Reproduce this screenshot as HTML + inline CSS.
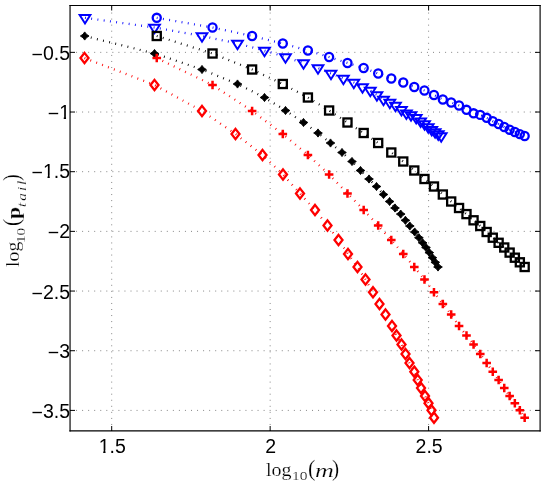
<!DOCTYPE html>
<html><head><meta charset="utf-8"><title>plot</title>
<style>
html,body{margin:0;padding:0;background:#fff;}
#c{will-change:transform;position:relative;width:546px;height:484px;overflow:hidden;background:#fff;font-family:"Liberation Sans",sans-serif;color:#000;}
.yt{position:absolute;right:476px;font-size:19.5px;line-height:20px;height:20px;white-space:nowrap;text-align:right;}
.xt{position:absolute;top:436px;font-size:19.5px;line-height:20px;width:60px;text-align:center;}
.o{display:inline-block;height:20px;line-height:20px;vertical-align:top;clip-path:polygon(0 0,100% 0,100% 14.3px,6.9px 14.3px,6.9px 20px,4.6px 20px,4.6px 14.3px,0 14.3px);}
.mn{position:relative;top:1px;}
.lb{position:absolute;width:0;height:0;transform-origin:0 0;}
.lb span{-webkit-text-stroke:0.22px #fff;position:absolute;white-space:nowrap;line-height:30px;transform-origin:0 0;}
</style></head><body><div id="c">
<svg width="546" height="484" viewBox="0 0 546 484" style="position:absolute;left:0;top:0">
<g stroke="#000" stroke-width="1" stroke-dasharray="1 5.05" fill="none" opacity="0.48"><path d="M111.7 431V5.5"/><path d="M270.15 431V5.5"/><path d="M428.6 431V5.5"/><path d="M70 52.35H540"/><path d="M70 112.03H540"/><path d="M70 171.7H540"/><path d="M70 231.37H540"/><path d="M70 291.05H540"/><path d="M70 350.73H540"/><path d="M70 410.4H540"/></g>
<polyline points="156.75,17.8 212.53,27.5 252.11,36 282.81,43.5 307.9,50.5 329.11,57 347.48,63 363.68,68 378.18,73.5 391.29,78.5 403.26,82.5 414.28,87 424.47,90.5 433.97,95 442.84,99.5 451.19,102.5 459.05,105.5 466.49,109.8 473.55,113.3 480.26,114.9 486.66,117.8 492.77,121.2 498.63,124 504.25,127 509.64,129.7 514.84,132 519.84,134.1 524.67,136" fill="none" stroke="#0000ff" stroke-width="2.3" stroke-dasharray="0.85 5.45"/>
<g fill="none" stroke="#0000ff" stroke-width="2.3"><circle cx="156.75" cy="17.8" r="4.05"/><circle cx="212.53" cy="27.5" r="4.05"/><circle cx="252.11" cy="36" r="4.05"/><circle cx="282.81" cy="43.5" r="4.05"/><circle cx="307.9" cy="50.5" r="4.05"/><circle cx="329.11" cy="57" r="4.05"/><circle cx="347.48" cy="63" r="4.05"/><circle cx="363.68" cy="68" r="4.05"/><circle cx="378.18" cy="73.5" r="4.05"/><circle cx="391.29" cy="78.5" r="4.05"/><circle cx="403.26" cy="82.5" r="4.05"/><circle cx="414.28" cy="87" r="4.05"/><circle cx="424.47" cy="90.5" r="4.05"/><circle cx="433.97" cy="95" r="4.05"/><circle cx="442.84" cy="99.5" r="4.05"/><circle cx="451.19" cy="102.5" r="4.05"/><circle cx="459.05" cy="105.5" r="4.05"/><circle cx="466.49" cy="109.8" r="4.05"/><circle cx="473.55" cy="113.3" r="4.05"/><circle cx="480.26" cy="114.9" r="4.05"/><circle cx="486.66" cy="117.8" r="4.05"/><circle cx="492.77" cy="121.2" r="4.05"/><circle cx="498.63" cy="124" r="4.05"/><circle cx="504.25" cy="127" r="4.05"/><circle cx="509.64" cy="129.7" r="4.05"/><circle cx="514.84" cy="132" r="4.05"/><circle cx="519.84" cy="134.1" r="4.05"/><circle cx="524.67" cy="136" r="4.05"/></g>
<polyline points="85,17.8 154.5,27.5 202,36 237.5,43.5 264.5,50.5 285.5,57 303.5,63 318,68 331,73.5 343.4,78.5 353.8,82.5 362.5,87 370.3,90.5 376.9,95 383.5,99.5 389.85,102.5 395.49,105.5 401.44,109.8 406.38,113.3 411.03,114.9 416.18,117.8 420.62,121.2 424.57,124 428.22,127 431.76,129.7 435.11,132 438.25,134.1 441.2,136" fill="none" stroke="#0000ff" stroke-width="2.3" stroke-dasharray="0.85 5.45"/>
<g fill="none" stroke="#0000ff" stroke-width="2" stroke-linejoin="miter"><path d="M79.67 15.03h10.66l-5.33 8.43z"/><path d="M149.17 24.73h10.66l-5.33 8.43z"/><path d="M196.67 33.23h10.66l-5.33 8.43z"/><path d="M232.17 40.73h10.66l-5.33 8.43z"/><path d="M259.17 47.73h10.66l-5.33 8.43z"/><path d="M280.17 54.23h10.66l-5.33 8.43z"/><path d="M298.17 60.23h10.66l-5.33 8.43z"/><path d="M312.67 65.23h10.66l-5.33 8.43z"/><path d="M325.67 70.73h10.66l-5.33 8.43z"/><path d="M338.07 75.73h10.66l-5.33 8.43z"/><path d="M348.47 79.73h10.66l-5.33 8.43z"/><path d="M357.17 84.23h10.66l-5.33 8.43z"/><path d="M364.97 87.73h10.66l-5.33 8.43z"/><path d="M371.57 92.23h10.66l-5.33 8.43z"/><path d="M378.17 96.73h10.66l-5.33 8.43z"/><path d="M384.52 99.73h10.66l-5.33 8.43z"/><path d="M390.16 102.73h10.66l-5.33 8.43z"/><path d="M396.11 107.03h10.66l-5.33 8.43z"/><path d="M401.05 110.53h10.66l-5.33 8.43z"/><path d="M405.7 112.13h10.66l-5.33 8.43z"/><path d="M410.85 115.03h10.66l-5.33 8.43z"/><path d="M415.29 118.43h10.66l-5.33 8.43z"/><path d="M419.24 121.23h10.66l-5.33 8.43z"/><path d="M422.89 124.23h10.66l-5.33 8.43z"/><path d="M426.43 126.93h10.66l-5.33 8.43z"/><path d="M429.78 129.23h10.66l-5.33 8.43z"/><path d="M432.92 131.33h10.66l-5.33 8.43z"/><path d="M435.87 133.23h10.66l-5.33 8.43z"/></g>
<polyline points="156.75,36 212.53,53.5 252.11,69.5 282.81,84 307.9,97.5 329.11,110.5 347.48,122.5 363.68,133 378.18,143 391.29,152.5 403.26,161.5 414.28,170.5 424.47,179 433.97,186.5 442.84,194.5 451.19,201.5 459.05,208 466.49,214.1 473.55,220.3 480.26,226 486.66,232 492.77,237.7 498.63,242.8 504.25,247.5 509.64,252.6 514.84,257.7 519.84,262.3 524.67,267" fill="none" stroke="#000000" stroke-width="2.3" stroke-dasharray="0.85 5.45"/>
<g fill="none" stroke="#000000" stroke-width="2.3"><rect x="152.7" y="31.95" width="8.1" height="8.1"/><rect x="208.48" y="49.45" width="8.1" height="8.1"/><rect x="248.06" y="65.45" width="8.1" height="8.1"/><rect x="278.76" y="79.95" width="8.1" height="8.1"/><rect x="303.85" y="93.45" width="8.1" height="8.1"/><rect x="325.06" y="106.45" width="8.1" height="8.1"/><rect x="343.43" y="118.45" width="8.1" height="8.1"/><rect x="359.63" y="128.95" width="8.1" height="8.1"/><rect x="374.13" y="138.95" width="8.1" height="8.1"/><rect x="387.24" y="148.45" width="8.1" height="8.1"/><rect x="399.21" y="157.45" width="8.1" height="8.1"/><rect x="410.23" y="166.45" width="8.1" height="8.1"/><rect x="420.42" y="174.95" width="8.1" height="8.1"/><rect x="429.92" y="182.45" width="8.1" height="8.1"/><rect x="438.79" y="190.45" width="8.1" height="8.1"/><rect x="447.14" y="197.45" width="8.1" height="8.1"/><rect x="455" y="203.95" width="8.1" height="8.1"/><rect x="462.44" y="210.05" width="8.1" height="8.1"/><rect x="469.5" y="216.25" width="8.1" height="8.1"/><rect x="476.21" y="221.95" width="8.1" height="8.1"/><rect x="482.61" y="227.95" width="8.1" height="8.1"/><rect x="488.72" y="233.65" width="8.1" height="8.1"/><rect x="494.58" y="238.75" width="8.1" height="8.1"/><rect x="500.2" y="243.45" width="8.1" height="8.1"/><rect x="505.59" y="248.55" width="8.1" height="8.1"/><rect x="510.79" y="253.65" width="8.1" height="8.1"/><rect x="515.79" y="258.25" width="8.1" height="8.1"/><rect x="520.62" y="262.95" width="8.1" height="8.1"/></g>
<polyline points="84.7,36 154.5,53.5 202,69.5 237.5,84 264.5,97.5 285.5,110.5 303.5,122.5 318,133 330.5,143 342,152.5 352,161.5 360.5,170.5 369,179 376.5,186.5 383.5,194.5 389.6,201.5 395,208 400.7,214.1 405.4,220.3 409.8,226 414.7,232 418.9,237.7 422.6,242.8 426,247.5 429.3,252.6 432.4,257.7 435.3,262.3 438,267" fill="none" stroke="#000000" stroke-width="2.3" stroke-dasharray="0.85 5.45"/>
<g fill="#000000" stroke="#000000" stroke-width="0.9" stroke-linejoin="round"><path d="M84.7 31.9L86.45 34.25L89.05 36L86.45 37.75L84.7 40.1L82.95 37.75L80.35 36L82.95 34.25z"/><path d="M154.5 49.4L156.25 51.75L158.85 53.5L156.25 55.25L154.5 57.6L152.75 55.25L150.15 53.5L152.75 51.75z"/><path d="M202 65.4L203.75 67.75L206.35 69.5L203.75 71.25L202 73.6L200.25 71.25L197.65 69.5L200.25 67.75z"/><path d="M237.5 79.9L239.25 82.25L241.85 84L239.25 85.75L237.5 88.1L235.75 85.75L233.15 84L235.75 82.25z"/><path d="M264.5 93.4L266.25 95.75L268.85 97.5L266.25 99.25L264.5 101.6L262.75 99.25L260.15 97.5L262.75 95.75z"/><path d="M285.5 106.4L287.25 108.75L289.85 110.5L287.25 112.25L285.5 114.6L283.75 112.25L281.15 110.5L283.75 108.75z"/><path d="M303.5 118.4L305.25 120.75L307.85 122.5L305.25 124.25L303.5 126.6L301.75 124.25L299.15 122.5L301.75 120.75z"/><path d="M318 128.9L319.75 131.25L322.35 133L319.75 134.75L318 137.1L316.25 134.75L313.65 133L316.25 131.25z"/><path d="M330.5 138.9L332.25 141.25L334.85 143L332.25 144.75L330.5 147.1L328.75 144.75L326.15 143L328.75 141.25z"/><path d="M342 148.4L343.75 150.75L346.35 152.5L343.75 154.25L342 156.6L340.25 154.25L337.65 152.5L340.25 150.75z"/><path d="M352 157.4L353.75 159.75L356.35 161.5L353.75 163.25L352 165.6L350.25 163.25L347.65 161.5L350.25 159.75z"/><path d="M360.5 166.4L362.25 168.75L364.85 170.5L362.25 172.25L360.5 174.6L358.75 172.25L356.15 170.5L358.75 168.75z"/><path d="M369 174.9L370.75 177.25L373.35 179L370.75 180.75L369 183.1L367.25 180.75L364.65 179L367.25 177.25z"/><path d="M376.5 182.4L378.25 184.75L380.85 186.5L378.25 188.25L376.5 190.6L374.75 188.25L372.15 186.5L374.75 184.75z"/><path d="M383.5 190.4L385.25 192.75L387.85 194.5L385.25 196.25L383.5 198.6L381.75 196.25L379.15 194.5L381.75 192.75z"/><path d="M389.6 197.4L391.35 199.75L393.95 201.5L391.35 203.25L389.6 205.6L387.85 203.25L385.25 201.5L387.85 199.75z"/><path d="M395 203.9L396.75 206.25L399.35 208L396.75 209.75L395 212.1L393.25 209.75L390.65 208L393.25 206.25z"/><path d="M400.7 210L402.45 212.35L405.05 214.1L402.45 215.85L400.7 218.2L398.95 215.85L396.35 214.1L398.95 212.35z"/><path d="M405.4 216.2L407.15 218.55L409.75 220.3L407.15 222.05L405.4 224.4L403.65 222.05L401.05 220.3L403.65 218.55z"/><path d="M409.8 221.9L411.55 224.25L414.15 226L411.55 227.75L409.8 230.1L408.05 227.75L405.45 226L408.05 224.25z"/><path d="M414.7 227.9L416.45 230.25L419.05 232L416.45 233.75L414.7 236.1L412.95 233.75L410.35 232L412.95 230.25z"/><path d="M418.9 233.6L420.65 235.95L423.25 237.7L420.65 239.45L418.9 241.8L417.15 239.45L414.55 237.7L417.15 235.95z"/><path d="M422.6 238.7L424.35 241.05L426.95 242.8L424.35 244.55L422.6 246.9L420.85 244.55L418.25 242.8L420.85 241.05z"/><path d="M426 243.4L427.75 245.75L430.35 247.5L427.75 249.25L426 251.6L424.25 249.25L421.65 247.5L424.25 245.75z"/><path d="M429.3 248.5L431.05 250.85L433.65 252.6L431.05 254.35L429.3 256.7L427.55 254.35L424.95 252.6L427.55 250.85z"/><path d="M432.4 253.6L434.15 255.95L436.75 257.7L434.15 259.45L432.4 261.8L430.65 259.45L428.05 257.7L430.65 255.95z"/><path d="M435.3 258.2L437.05 260.55L439.65 262.3L437.05 264.05L435.3 266.4L433.55 264.05L430.95 262.3L433.55 260.55z"/><path d="M438 262.9L439.75 265.25L442.35 267L439.75 268.75L438 271.1L436.25 268.75L433.65 267L436.25 265.25z"/></g>
<polyline points="156.75,58 212.53,85 252.11,111 282.81,134 307.9,155 329.11,174.5 347.48,193.5 363.68,210 378.18,225.5 391.29,240 403.26,254 414.28,267 424.47,279.5 433.97,292.3 442.84,304 451.19,314.5 459.05,326 466.49,335.5 473.55,344.5 480.26,354 486.66,363 492.77,371.7 498.63,380 504.25,388 509.64,396 514.84,403.2 519.84,410.3 524.67,417.7" fill="none" stroke="#ff0000" stroke-width="2.3" stroke-dasharray="0.85 5.45"/>
<g fill="none" stroke="#ff0000" stroke-width="2.5"><path d="M152.45 58h8.6M156.75 53.7v8.6"/><path d="M208.23 85h8.6M212.53 80.7v8.6"/><path d="M247.81 111h8.6M252.11 106.7v8.6"/><path d="M278.51 134h8.6M282.81 129.7v8.6"/><path d="M303.6 155h8.6M307.9 150.7v8.6"/><path d="M324.81 174.5h8.6M329.11 170.2v8.6"/><path d="M343.18 193.5h8.6M347.48 189.2v8.6"/><path d="M359.38 210h8.6M363.68 205.7v8.6"/><path d="M373.88 225.5h8.6M378.18 221.2v8.6"/><path d="M386.99 240h8.6M391.29 235.7v8.6"/><path d="M398.96 254h8.6M403.26 249.7v8.6"/><path d="M409.98 267h8.6M414.28 262.7v8.6"/><path d="M420.17 279.5h8.6M424.47 275.2v8.6"/><path d="M429.67 292.3h8.6M433.97 288v8.6"/><path d="M438.54 304h8.6M442.84 299.7v8.6"/><path d="M446.89 314.5h8.6M451.19 310.2v8.6"/><path d="M454.75 326h8.6M459.05 321.7v8.6"/><path d="M462.19 335.5h8.6M466.49 331.2v8.6"/><path d="M469.25 344.5h8.6M473.55 340.2v8.6"/><path d="M475.96 354h8.6M480.26 349.7v8.6"/><path d="M482.36 363h8.6M486.66 358.7v8.6"/><path d="M488.47 371.7h8.6M492.77 367.4v8.6"/><path d="M494.33 380h8.6M498.63 375.7v8.6"/><path d="M499.95 388h8.6M504.25 383.7v8.6"/><path d="M505.34 396h8.6M509.64 391.7v8.6"/><path d="M510.54 403.2h8.6M514.84 398.9v8.6"/><path d="M515.54 410.3h8.6M519.84 406v8.6"/><path d="M520.37 417.7h8.6M524.67 413.4v8.6"/></g>
<polyline points="84.5,58 154.5,85 202,111 235.5,134 262.5,155 283,174.5 300,193.5 315,210 327.5,225.5 338.5,240 348,254 357.5,267 365.5,279.5 373,292.3 379.5,304 385.5,314.5 392,326 396.5,335.5 401.5,344.5 405.5,354 409.5,363 414.3,371.7 417.7,380 421,388 425,396 428.5,403.2 431.5,410.3 434,417.7" fill="none" stroke="#ff0000" stroke-width="2.3" stroke-dasharray="0.85 5.45"/>
<g fill="none" stroke="#ff0000" stroke-width="2.3" stroke-linejoin="miter"><path d="M84.5 52.87l4 5.13l-4 5.13l-4 -5.13z"/><path d="M154.5 79.87l4 5.13l-4 5.13l-4 -5.13z"/><path d="M202 105.87l4 5.13l-4 5.13l-4 -5.13z"/><path d="M235.5 128.87l4 5.13l-4 5.13l-4 -5.13z"/><path d="M262.5 149.87l4 5.13l-4 5.13l-4 -5.13z"/><path d="M283 169.37l4 5.13l-4 5.13l-4 -5.13z"/><path d="M300 188.37l4 5.13l-4 5.13l-4 -5.13z"/><path d="M315 204.87l4 5.13l-4 5.13l-4 -5.13z"/><path d="M327.5 220.37l4 5.13l-4 5.13l-4 -5.13z"/><path d="M338.5 234.87l4 5.13l-4 5.13l-4 -5.13z"/><path d="M348 248.87l4 5.13l-4 5.13l-4 -5.13z"/><path d="M357.5 261.87l4 5.13l-4 5.13l-4 -5.13z"/><path d="M365.5 274.37l4 5.13l-4 5.13l-4 -5.13z"/><path d="M373 287.17l4 5.13l-4 5.13l-4 -5.13z"/><path d="M379.5 298.87l4 5.13l-4 5.13l-4 -5.13z"/><path d="M385.5 309.37l4 5.13l-4 5.13l-4 -5.13z"/><path d="M392 320.87l4 5.13l-4 5.13l-4 -5.13z"/><path d="M396.5 330.37l4 5.13l-4 5.13l-4 -5.13z"/><path d="M401.5 339.37l4 5.13l-4 5.13l-4 -5.13z"/><path d="M405.5 348.87l4 5.13l-4 5.13l-4 -5.13z"/><path d="M409.5 357.87l4 5.13l-4 5.13l-4 -5.13z"/><path d="M414.3 366.57l4 5.13l-4 5.13l-4 -5.13z"/><path d="M417.7 374.87l4 5.13l-4 5.13l-4 -5.13z"/><path d="M421 382.87l4 5.13l-4 5.13l-4 -5.13z"/><path d="M425 390.87l4 5.13l-4 5.13l-4 -5.13z"/><path d="M428.5 398.07l4 5.13l-4 5.13l-4 -5.13z"/><path d="M431.5 405.17l4 5.13l-4 5.13l-4 -5.13z"/><path d="M434 412.57l4 5.13l-4 5.13l-4 -5.13z"/></g>
<g stroke="#000" stroke-width="1" fill="none"><path stroke-width="1.1" d="M69.45 5.5H540.7"/><path stroke-width="1.35" d="M69.45 430.9H540.7"/><path stroke-width="1.15" d="M70.05 5V431.5M540.1 5V431.5"/><path d="M111.7 431v-5M111.7 5.5v5"/><path d="M270.15 431v-5M270.15 5.5v5"/><path d="M428.6 431v-5M428.6 5.5v5"/><path d="M70 52.35h5M540 52.35h-5"/><path d="M70 112.03h5M540 112.03h-5"/><path d="M70 171.7h5M540 171.7h-5"/><path d="M70 231.37h5M540 231.37h-5"/><path d="M70 291.05h5M540 291.05h-5"/><path d="M70 350.73h5M540 350.73h-5"/><path d="M70 410.4h5M540 410.4h-5"/></g>
</svg>
<div class="yt" style="top:43px"><span class="mn">−</span>0.5</div>
<div class="yt" style="top:102px"><span class="mn">−</span><span class="o">1</span></div>
<div class="yt" style="top:161px"><span class="mn">−</span><span class="o">1</span>.5</div>
<div class="yt" style="top:221px"><span class="mn">−</span>2</div>
<div class="yt" style="top:282px"><span class="mn">−</span>2.5</div>
<div class="yt" style="top:341px"><span class="mn">−</span>3</div>
<div class="yt" style="top:401px"><span class="mn">−</span>3.5</div>
<div class="xt" style="left:82.2px"><span class="o">1</span>.5</div>
<div class="xt" style="left:240.65px">2</div>
<div class="xt" style="left:399.1px">2.5</div>
<div class="lb" style="left:266.4px;top:475.6px;"><span style="left:-0.38px;top:-20.14px;font:20px/30px Liberation Serif;transform:scale(1.002,0.960)">log</span><span style="left:25.56px;top:-13.23px;font:13.5px/30px Liberation Serif;transform:scale(1.149,0.953)">10</span><span style="left:41.33px;top:-20.53px;font:23px/30px Liberation Serif;transform:scale(0.970,0.969)">(</span><span style="left:48.31px;top:-19.01px;font:italic 22px/30px Liberation Serif;transform:scale(1.186,0.887)">m</span><span style="left:65.90px;top:-20.53px;font:23px/30px Liberation Serif;transform:scale(0.936,0.969)">)</span></div>
<div class="lb" style="left:19.1px;top:266.6px;transform:rotate(-90deg);"><span style="left:-0.37px;top:-20.56px;font:20px/30px Liberation Serif;transform:scale(0.990,0.977)">log</span><span style="left:24.30px;top:-12.33px;font:13.5px/30px Liberation Serif;transform:scale(1.123,0.953)">10</span><span style="left:41.06px;top:-20.77px;font:23px/30px Liberation Serif;transform:scale(0.936,0.959)">(</span><span style="left:48.03px;top:-20.73px;font:bold 20px/30px Liberation Serif;transform:scale(1.080,0.983)">p</span><span style="left:59.74px;top:-10.90px;font:italic 14.5px/30px Liberation Serif;letter-spacing:1.9px;transform:scale(1.053,0.889)">tail</span><span style="left:86.14px;top:-20.77px;font:23px/30px Liberation Serif;transform:scale(0.885,0.959)">)</span></div>
</div></body></html>
